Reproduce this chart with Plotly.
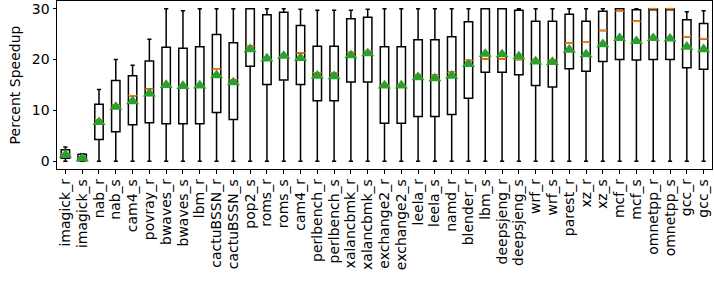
import plotly.graph_objects as go

benchmarks = ["imagick_r", "imagick_s", "nab_r", "nab_s", "cam4_s", "povray_r", "bwaves_r",
              "bwaves_s", "lbm_r", "cactuBSSN_r", "cactuBSSN_s", "pop2_s", "roms_r", "roms_s",
              "cam4_r", "perlbench_r", "perlbench_s", "xalancbmk_r", "xalancbmk_s", "exchange2_r",
              "exchange2_s", "leela_r", "leela_s", "namd_r", "blender_r", "lbm_s", "deepsjeng_r",
              "deepsjeng_s", "wrf_r", "wrf_s", "parest_r", "xz_r", "xz_s", "mcf_r", "mcf_s",
              "omnetpp_r", "omnetpp_s", "gcc_r", "gcc_s"]

whisker_low = [0.0] * 39
q1 = [0.6, 0.1, 4.3, 5.8, 7.2, 7.6, 7.4, 7.4, 7.4, 9.6, 8.2, 18.7, 15.1, 16.0,
      15.1, 11.9, 11.9, 15.6, 15.6, 7.5, 7.5, 8.8, 8.8, 9.2, 12.4, 17.5, 17.5,
      17.0, 14.9, 14.6, 18.2, 17.7, 19.6, 20.0, 19.9, 20.0, 20.0, 18.4, 18.1]
median = [1.5, 0.8, 8.15, 11.0, 12.9, 14.2, 15.0, 14.9, 14.9, 18.1, 16.0, 22.6, 20.0, 20.5,
          21.3, 17.4, 17.4, 21.4, 21.6, 15.0, 15.0, 16.9, 16.9, 17.5, 19.8, 20.1, 20.1,
          20.0, 19.8, 19.9, 23.2, 23.4, 25.7, 29.5, 27.5, 30.0, 30.0, 24.5, 24.1]
q3 = [2.3, 1.4, 11.2, 15.9, 16.8, 19.7, 22.4, 22.2, 22.5, 24.9, 23.3, 30.0, 28.8, 29.3,
      26.7, 22.6, 22.6, 28.0, 28.3, 22.5, 22.5, 23.9, 23.9, 24.5, 27.4, 30.0, 30.0,
      29.7, 27.5, 27.5, 28.9, 27.5, 29.5, 30.0, 29.8, 30.0, 30.0, 27.8, 27.1]
whisker_high = [2.8, 1.5, 14.1, 20.0, 18.9, 24.0, 30.0, 29.6, 30.0, 30.0, 30.0, 30.0, 30.0, 30.0,
                29.9, 29.7, 29.7, 29.7, 29.9, 30.0, 30.0, 30.0, 30.0, 30.0, 30.0, 30.0, 30.0,
                30.0, 30.0, 30.0, 30.0, 30.0, 30.0, 30.0, 30.0, 30.0, 30.0, 29.4, 29.6]
mean = [1.3, 0.6, 7.7, 10.7, 11.8, 13.3, 15.0, 14.8, 14.9, 16.9, 15.5, 22.0, 20.2, 20.7,
        20.3, 16.8, 16.7, 20.8, 21.2, 14.9, 14.9, 16.5, 16.3, 16.8, 19.1, 21.1, 21.0,
        20.6, 19.6, 19.5, 21.9, 21.0, 23.0, 24.2, 23.6, 24.2, 24.1, 22.5, 22.0]

FONT = "DejaVu Sans"
FS = 14

fig = go.Figure()
fig.add_trace(go.Box(
    x=benchmarks, q1=q1, median=median, q3=q3,
    lowerfence=whisker_low, upperfence=whisker_high,
    width=0.5, whiskerwidth=0.5,
    fillcolor="rgba(255,255,255,0)",
    line=dict(color="black", width=1.5),
    boxpoints=False, showlegend=False, hoverinfo="skip",
))
fig.add_trace(go.Scatter(
    x=benchmarks, y=median, mode="markers",
    marker=dict(symbol="line-ew", size=6, line=dict(color="#ff7f0e", width=1.6)),
    showlegend=False, hoverinfo="skip",
))
fig.add_trace(go.Scatter(
    x=benchmarks, y=mean, mode="markers",
    marker=dict(symbol="triangle-up", size=11.5, color="#2ca02c", line=dict(width=0)),
    showlegend=False, hoverinfo="skip",
))

fig.update_layout(
    width=714, height=281,
    margin=dict(l=57, r=2, t=1, b=112),
    plot_bgcolor="white", paper_bgcolor="white",
    font=dict(family=FONT, size=FS, color="black"),
)
fig.update_xaxes(
    type="category", tickmode="array", tickvals=benchmarks, ticktext=benchmarks,
    tickangle=-90, ticks="outside", ticklen=3.5, tickwidth=1,
    tickcolor="black", showline=True, mirror=True, linecolor="black", linewidth=1,
    showgrid=False, range=[-0.5, 38.5], tickfont=dict(size=FS), automargin=False,
)
fig.update_yaxes(
    range=[-1.5, 31.5], tickvals=[0, 10, 20, 30], ticks="outside", ticklen=3.5,
    tickwidth=1, tickcolor="black", showline=True, mirror=True, linecolor="black",
    linewidth=1, showgrid=False, zeroline=False, automargin=False,
    title=dict(text="Percent Speedup", font=dict(size=FS), standoff=7),
    tickfont=dict(size=FS),
)

fig.write_html("out.html", config={"displayModeBar": False},
               post_script="document.body.style.margin='0';document.body.style.padding='0';")
